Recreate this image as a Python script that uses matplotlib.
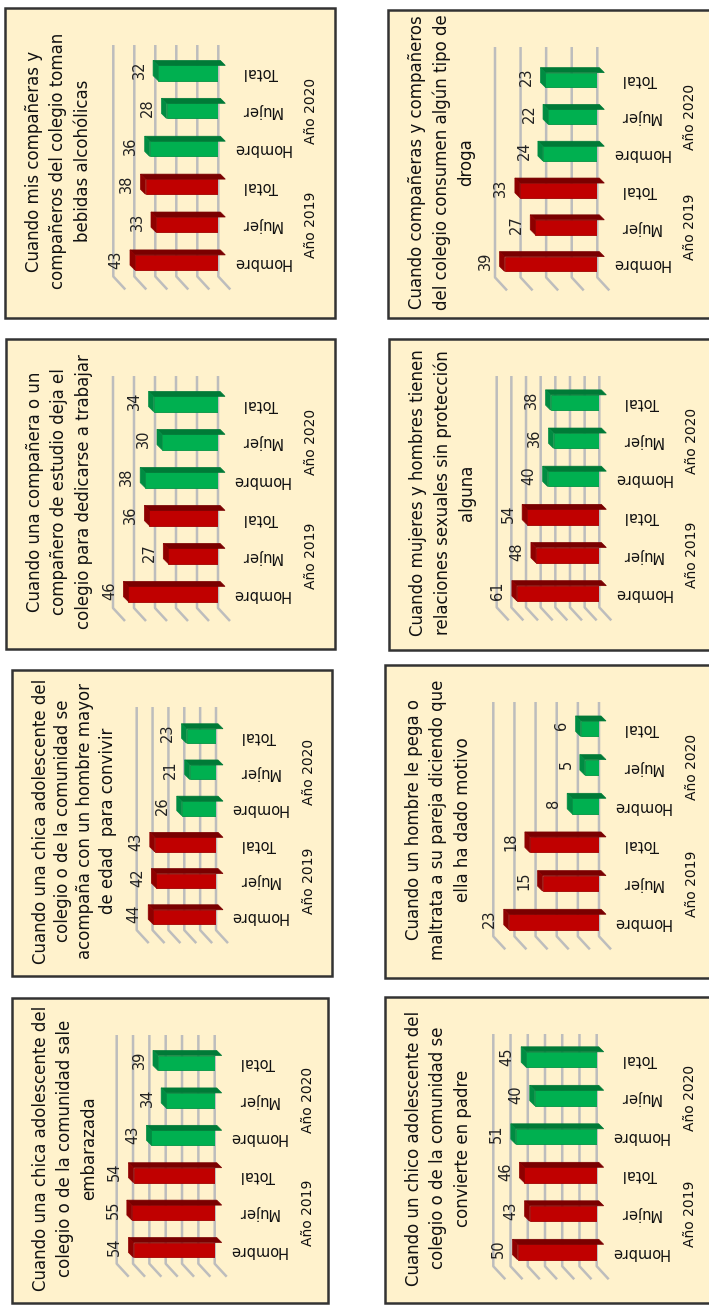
import numpy as np
import matplotlib.pyplot as plt
from matplotlib.patches import Rectangle, Polygon

W, H = 709, 1308
fig = plt.figure(figsize=(W / 100, H / 100), dpi=100)
plt.rcParams['font.family'] = ['DejaVu Sans']

categories = ['Hombre', 'Mujer', 'Total']
years = ['Año 2019', 'Año 2020']

# valores (Hombre, Mujer, Total)
embarazo_2019 = [54, 55, 54]
embarazo_2020 = [43, 34, 39]
convivir_2019 = [44, 42, 43]
convivir_2020 = [26, 21, 23]
trabajar_2019 = [46, 27, 36]
trabajar_2020 = [38, 30, 34]
alcohol_2019 = [43, 33, 38]
alcohol_2020 = [36, 28, 32]
droga_2019 = [39, 27, 33]
droga_2020 = [24, 22, 23]
sexual_2019 = [61, 48, 54]
sexual_2020 = [40, 36, 38]
maltrato_2019 = [23, 15, 18]
maltrato_2020 = [8, 5, 6]
padre_2019 = [50, 43, 46]
padre_2020 = [51, 40, 45]

titles = [
    "Cuando una chica adolescente del\ncolegio o de la comunidad sale\nembarazada",
    "Cuando una chica adolescente del\ncolegio o de la comunidad se\nacompaña con un hombre mayor\nde edad  para convivir",
    "Cuando una compañera o un\ncompañero de estudio deja el\ncolegio para dedicarse a trabajar",
    "Cuando mis compañeras y\ncompañeros del colegio toman\nbebidas alcohólicas",
    "Cuando compañeras y compañeros\ndel colegio consumen algún tipo de\ndroga",
    "Cuando mujeres y hombres tienen\nrelaciones sexuales sin protección\nalguna",
    "Cuando un hombre le pega o\nmaltrata a su pareja diciendo que\nella ha dado motivo",
    "Cuando un chico adolescente del\ncolegio o de la comunidad se\nconvierte en padre",
]
axis_max = [60, 50, 50, 50, 40, 70, 25, 60]
axis_step = [10, 10, 10, 10, 10, 10, 5, 10]

BG = '#FFF2CC'
RED, RED_TOP, RED_SIDE, RED_EDGE = '#C00000', '#7A0000', '#8E0000', '#A00000'
GRN, GRN_TOP, GRN_SIDE, GRN_EDGE = '#00B050', '#007A37', '#008C42', '#009443'

# layout (pixels): box, value-0 gridline x, max gridline x, first/last row y
layout = [
    ((12, 998, 328, 1303), 214.7, 116.7, 1250, 1063),
    ((12, 670, 332, 976), 216.0, 136.7, 917, 736),
    ((6, 339, 335, 649), 218.0, 113.0, 594, 404),
    ((5, 8, 335, 318), 218.3, 113.3, 262.5, 73),
    ((388, 10, 710, 318), 597.3, 495.0, 264, 80),
    ((389, 339, 710, 650), 599.3, 496.7, 593.3, 402.5),
    ((385, 665, 710, 978), 599.0, 493.3, 922, 728.7),
    ((385, 997, 710, 1303), 596.7, 493.3, 1252, 1059.5),
]
series = [
    (embarazo_2019, embarazo_2020), (convivir_2019, convivir_2020),
    (trabajar_2019, trabajar_2020), (alcohol_2019, alcohol_2020),
    (droga_2019, droga_2020), (sexual_2019, sexual_2020),
    (maltrato_2019, maltrato_2020), (padre_2019, padre_2020),
]


def panel(box, x0, xm, row0, row5, title, v19, v20, vmax, step, nlines):
    bx0, by0, bx1, by1 = box
    fig.patches.append(Rectangle((bx0 / W, 1 - by1 / H), (bx1 - bx0) / W, (by1 - by0) / H,
                                 transform=fig.transFigure, fc=BG, ec='#333333', lw=1.8, zorder=-5))
    slot = (row0 - row5) / 5
    ybot = row0 + slot / 2
    ytop = row5 - slot / 2
    ax = fig.add_axes([xm / W, 1 - ybot / H, (x0 - xm) / W, (ybot - ytop) / H])
    ax.set_xlim(vmax, 0)
    ax.set_ylim(-0.5, 5.5)
    ax.axis('off')
    px = vmax / (x0 - xm)
    py = 1 / slot
    ddx, ddy = 5 * px, 5 * py
    sh = 2 * px  # bars sit slightly in front of the back wall

    # gridlines on back wall + floor depth
    gtop = (ybot - (by0 + 37)) * py - 0.5
    gbot = -0.5 + ddy
    for g in np.arange(0, vmax + step / 2, step):
        ax.plot([g, g, g - 12 * px], [gtop, gbot, gbot - 13 * py], color='#BDBDBD',
                lw=1.8, clip_on=False, zorder=1, solid_capstyle='butt')

    vals = list(v19) + list(v20)
    idx = np.arange(6)
    front = [RED] * 3 + [GRN] * 3
    edges = [RED_EDGE] * 3 + [GRN_EDGE] * 3
    ax.barh(idx, vals, height=0.4, left=-ddx - sh, color=front, edgecolor=edges, lw=0.6, zorder=3)
    for i, v in enumerate(vals):
        top_c, side_c = (RED_TOP, RED_SIDE) if i < 3 else (GRN_TOP, GRN_SIDE)
        yt, yb = i + 0.2, i - 0.2
        a, b = -ddx - sh, v - ddx - sh
        ax.add_patch(Polygon([(a, yt), (b, yt), (b + ddx, yt + ddy), (a + ddx, yt + ddy)],
                             closed=True, fc=top_c, ec=top_c, lw=0.5, zorder=3, clip_on=False))
        ax.add_patch(Polygon([(b, yt), (b, yb), (b + ddx, yb + ddy), (b + ddx, yt + ddy)],
                             closed=True, fc=side_c, ec=side_c, lw=0.5, zorder=3, clip_on=False))
        ax.annotate(str(v), (v, i), xytext=(-12, 3), textcoords='offset pixels', rotation=90,
                    ha='center', va='center', fontsize=10.5, color='#222222')
        ax.annotate(categories[i % 3], (0, i), xytext=(43, 0), textcoords='offset pixels',
                    rotation=180, ha='center', va='center', fontsize=10.5, color='#111111')
    for k, yl in enumerate(years):
        ax.annotate(yl, (0, 1 + 3 * k), xytext=(93, 0), textcoords='offset pixels', rotation=90,
                    ha='center', va='center', fontsize=10, color='#111111')

    ls = 1.45 if nlines < 4 else 1.3
    fig.text((bx0 + 20) / W, 1 - ((by0 + by1) / 2 - 2) / H, title, rotation=90, ha='left',
             va='center', multialignment='center', fontsize=12, linespacing=ls,
             color='#111111')


for k in range(8):
    box, x0, xm, r0, r5 = layout[k]
    panel(box, x0, xm, r0, r5, titles[k], series[k][0], series[k][1], axis_max[k],
          axis_step[k], titles[k].count('\n') + 1)

fig.savefig('out.png', dpi=100, facecolor='white')
